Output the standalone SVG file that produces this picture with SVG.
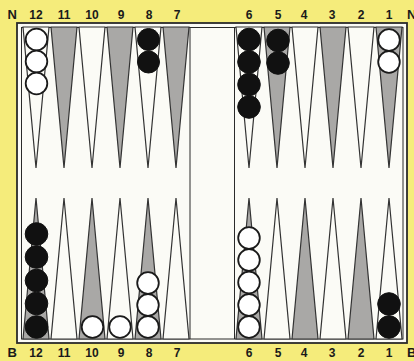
<svg xmlns="http://www.w3.org/2000/svg" width="414" height="361" viewBox="0 0 414 361">
<defs>
<style>
.lbl{font-family:"Liberation Sans",Arial,sans-serif;font-weight:bold;font-size:12px;fill:#1a1a1a;text-anchor:middle}
.let{font-family:"Liberation Sans",Arial,sans-serif;font-weight:bold;font-size:13px;fill:#1a1a1a}
.pw{fill:#fbfbf6;stroke:#333333;stroke-width:1.2;stroke-linejoin:miter}
.pg{fill:#a9a8a6;stroke:#333333;stroke-width:1.2;stroke-linejoin:miter}
.cw{fill:#ffffff;stroke:#1a1a1a;stroke-width:1.8}
.cb{fill:#111111;stroke:#111111;stroke-width:1}
.frame{fill:none;stroke:#2a2a2a}
</style>
<polygon id="tTop" points="-13,27 13,27 0,168"/>
<polygon id="tBot" points="-13,339 13,339 0,198"/>
</defs>
<rect x="0" y="0" width="414" height="361" fill="#f5ec7b"/>
<rect x="17" y="23" width="390" height="320" fill="#fbfbf6"/>
<g id="frame">
<rect class="frame" x="17" y="23" width="390" height="320" stroke-width="1.8"/>
<rect class="frame" x="21.5" y="27.5" width="381.5" height="311.5" stroke-width="1"/>
<line class="frame" x1="190" y1="27" x2="190" y2="339" stroke-width="1"/>
<line class="frame" x1="234.5" y1="27" x2="234.5" y2="339" stroke-width="1"/>
</g>
<g id="points-top">
<use href="#tTop" class="pw" x="36"/>
<use href="#tTop" class="pg" x="64"/>
<use href="#tTop" class="pw" x="92"/>
<use href="#tTop" class="pg" x="120"/>
<use href="#tTop" class="pw" x="148"/>
<use href="#tTop" class="pg" x="176"/>
<use href="#tTop" class="pw" x="249"/>
<use href="#tTop" class="pg" x="277"/>
<use href="#tTop" class="pw" x="305"/>
<use href="#tTop" class="pg" x="333"/>
<use href="#tTop" class="pw" x="361"/>
<use href="#tTop" class="pg" x="389"/>
</g>
<g id="points-bottom">
<use href="#tBot" class="pg" x="36"/>
<use href="#tBot" class="pw" x="64"/>
<use href="#tBot" class="pg" x="92"/>
<use href="#tBot" class="pw" x="120"/>
<use href="#tBot" class="pg" x="148"/>
<use href="#tBot" class="pw" x="176"/>
<use href="#tBot" class="pg" x="249"/>
<use href="#tBot" class="pw" x="277"/>
<use href="#tBot" class="pg" x="305"/>
<use href="#tBot" class="pw" x="333"/>
<use href="#tBot" class="pg" x="361"/>
<use href="#tBot" class="pw" x="389"/>
</g>
<g id="checkers-top">
<circle class="cw" cx="36.5" cy="39.5" r="10.8"/>
<circle class="cw" cx="36.5" cy="61.5" r="10.8"/>
<circle class="cw" cx="36.5" cy="83.5" r="10.8"/>
<circle class="cb" cx="148.5" cy="39.5" r="11"/>
<circle class="cb" cx="148.5" cy="62" r="11"/>
<circle class="cb" cx="249" cy="39.5" r="11.3"/>
<circle class="cb" cx="249" cy="62" r="11.3"/>
<circle class="cb" cx="249" cy="84.5" r="11.3"/>
<circle class="cb" cx="249" cy="107" r="11.3"/>
<circle class="cb" cx="278" cy="40.5" r="11.3"/>
<circle class="cb" cx="278" cy="63" r="11.3"/>
<circle class="cw" cx="389" cy="40" r="10.8"/>
<circle class="cw" cx="389" cy="62" r="10.8"/>
</g>
<g id="checkers-bottom">
<circle class="cb" cx="36.5" cy="327" r="11.3"/>
<circle class="cb" cx="36.5" cy="303.5" r="11.3"/>
<circle class="cb" cx="36.5" cy="280.5" r="11.3"/>
<circle class="cb" cx="36.5" cy="257" r="11.3"/>
<circle class="cb" cx="36.5" cy="234" r="11.3"/>
<circle class="cw" cx="92.5" cy="327" r="10.8"/>
<circle class="cw" cx="120" cy="327" r="10.8"/>
<circle class="cw" cx="148" cy="327" r="10.8"/>
<circle class="cw" cx="148" cy="305" r="10.8"/>
<circle class="cw" cx="148" cy="283" r="10.8"/>
<circle class="cw" cx="249" cy="327" r="10.8"/>
<circle class="cw" cx="249" cy="305" r="10.8"/>
<circle class="cw" cx="249" cy="282.5" r="10.8"/>
<circle class="cw" cx="249" cy="260" r="10.8"/>
<circle class="cw" cx="249" cy="238" r="10.8"/>
<circle class="cb" cx="389" cy="327" r="11.3"/>
<circle class="cb" cx="389" cy="304" r="11.3"/>
</g>
<g id="labels-top">
<text class="let" x="7.5" y="19">N</text>
<text class="lbl" x="36" y="18.5">12</text>
<text class="lbl" x="64" y="18.5">11</text>
<text class="lbl" x="92" y="18.5">10</text>
<text class="lbl" x="121" y="18.5">9</text>
<text class="lbl" x="149" y="18.5">8</text>
<text class="lbl" x="177" y="18.5">7</text>
<text class="lbl" x="249" y="18.5">6</text>
<text class="lbl" x="278" y="18.5">5</text>
<text class="lbl" x="304" y="18.5">4</text>
<text class="lbl" x="332" y="18.5">3</text>
<text class="lbl" x="361" y="18.5">2</text>
<text class="lbl" x="389" y="18.5">1</text>
<text class="let" x="407" y="19">N</text>
</g>
<g id="labels-bottom">
<text class="let" x="7.5" y="357">B</text>
<text class="lbl" x="36" y="356.5">12</text>
<text class="lbl" x="64" y="356.5">11</text>
<text class="lbl" x="92" y="356.5">10</text>
<text class="lbl" x="121" y="356.5">9</text>
<text class="lbl" x="149" y="356.5">8</text>
<text class="lbl" x="177" y="356.5">7</text>
<text class="lbl" x="249" y="356.5">6</text>
<text class="lbl" x="278" y="356.5">5</text>
<text class="lbl" x="304" y="356.5">4</text>
<text class="lbl" x="332" y="356.5">3</text>
<text class="lbl" x="361" y="356.5">2</text>
<text class="lbl" x="389" y="356.5">1</text>
<text class="let" x="407" y="357">B</text>
</g>
</svg>
